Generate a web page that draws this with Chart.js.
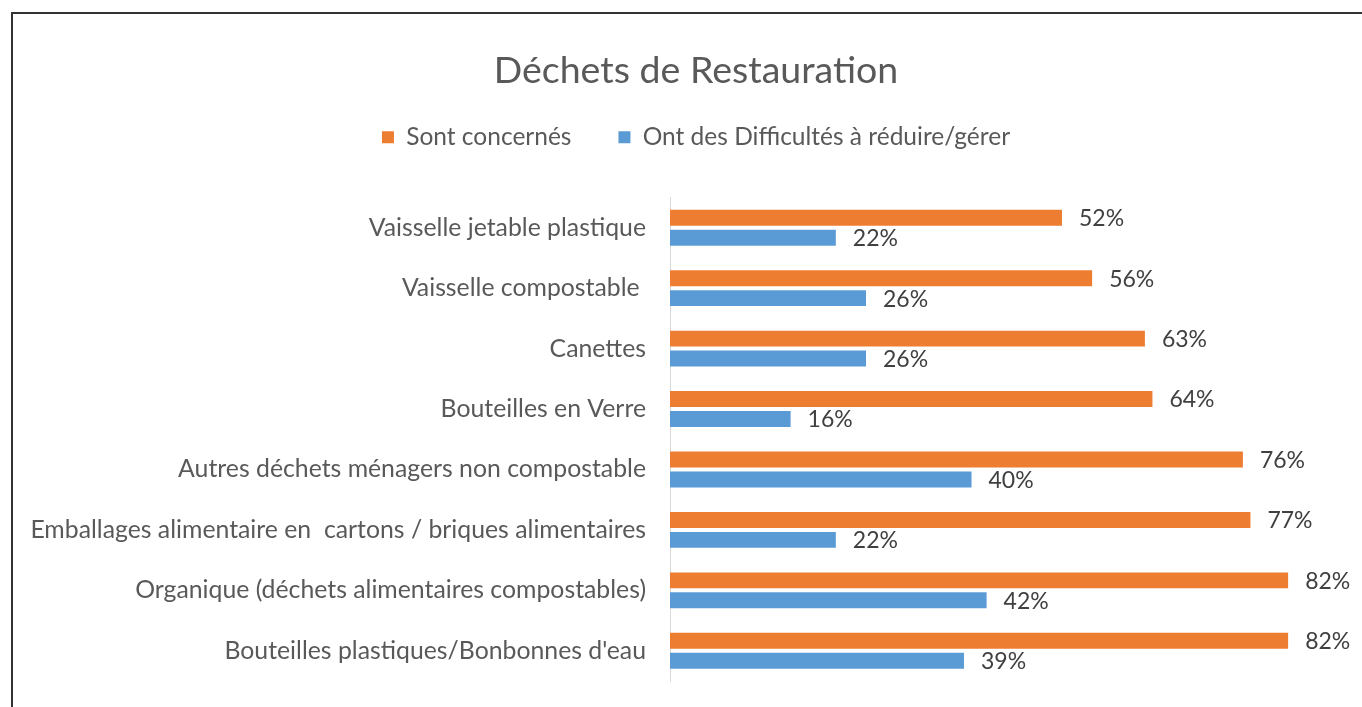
<!DOCTYPE html>
<html>
<head>
<meta charset="utf-8">
<script src="https://cdn.jsdelivr.net/npm/chart.js@4"></script>
<style>
    html, body { margin: 0; padding: 0; background: #fff; overflow: hidden; }
    #wrap { position: relative; width: 1362px; height: 707px; }
    #frame { position: absolute; left: 11px; top: 12px; width: 1400px; height: 800px;
             border-left: 2px solid #333; border-top: 2px solid #333; pointer-events: none; }
    canvas { position: absolute; left: 0; top: 0; }
</style>
</head>
<body>
<div id="wrap">
    <canvas id="wasteChart" width="1362" height="707"></canvas>
    <div id="frame"></div>
</div>
<script>
const categories = [
    'Vaisselle jetable plastique',
    'Vaisselle compostable ',
    'Canettes',
    'Bouteilles en Verre',
    'Autres déchets ménagers non compostable',
    'Emballages alimentaire en  cartons / briques alimentaires',
    'Organique (déchets alimentaires compostables)',
    'Bouteilles plastiques/Bonbonnes d\'eau'
];
const concernes = [52, 56, 63, 64, 76, 77, 82, 82];
const difficultes = [22, 26, 26, 16, 40, 22, 42, 39];

const FONT = 'Lato, "Open Sans", sans-serif';
const GREY = '#595959';

// value labels at the end of each bar
const barLabels = {
    id: 'barLabels',
    afterDatasetsDraw(chart) {
        const ctx = chart.ctx;
        ctx.save();
        ctx.font = '23px ' + FONT;
        ctx.fillStyle = '#404040';
        ctx.textBaseline = 'middle';
        chart.data.datasets.forEach((ds, i) => {
            chart.getDatasetMeta(i).data.forEach((bar, j) => {
                ctx.fillText(ds.data[j] + '%', bar.x + 17, bar.y + 1);
            });
        });
        ctx.restore();
    }
};

// extra space under the legend
const legendGap = {
    id: 'legendGap',
    beforeInit(chart) {
        const fit = chart.legend.fit;
        chart.legend.fit = function () {
            fit.bind(chart.legend)();
            this.height += 38;
        };
    }
};

const ctx = document.getElementById('wasteChart').getContext('2d');
new Chart(ctx, {
    type: 'bar',
    data: {
        labels: categories,
        datasets: [{
            label: 'Sont concernés',
            data: concernes,
            backgroundColor: '#ED7D31',
            barPercentage: 0.8,
            categoryPercentage: 0.66
        }, {
            label: 'Ont des Difficultés à réduire/gérer',
            data: difficultes,
            backgroundColor: '#5B9BD5',
            barPercentage: 0.8,
            categoryPercentage: 0.66
        }]
    },
    options: {
        indexAxis: 'y',
        responsive: false,
        animation: false,
        // negative right padding pushes title/legend centre to the right
        layout: { padding: { left: 0, right: -30, top: 0, bottom: 26 } },
        plugins: {
            title: {
                display: true,
                text: 'Déchets de Restauration',
                color: GREY,
                font: { family: FONT, size: 37.5, weight: 'normal' },
                padding: { top: 48, bottom: -15 }
            },
            legend: {
                position: 'top',
                labels: {
                    color: GREY,
                    font: { family: FONT, size: 24.5 },
                    boxWidth: 12,
                    boxHeight: 12,
                    padding: 47
                }
            },
            tooltip: { enabled: false }
        },
        scales: {
            x: {
                display: false,
                min: 0,
                max: 91.8
            },
            y: {
                afterFit(scale) {
                    scale.width = 670;
                    scale.paddingTop = 0;
                    scale.paddingBottom = 0;
                },
                grid: { drawOnChartArea: false, drawTicks: false },
                border: { display: true, color: '#d9d9d9', width: 1 },
                ticks: {
                    color: GREY,
                    font: { family: FONT, size: 24.8 },
                    padding: 24
                }
            }
        }
    },
    plugins: [barLabels, legendGap]
});
</script>
</body>
</html>
